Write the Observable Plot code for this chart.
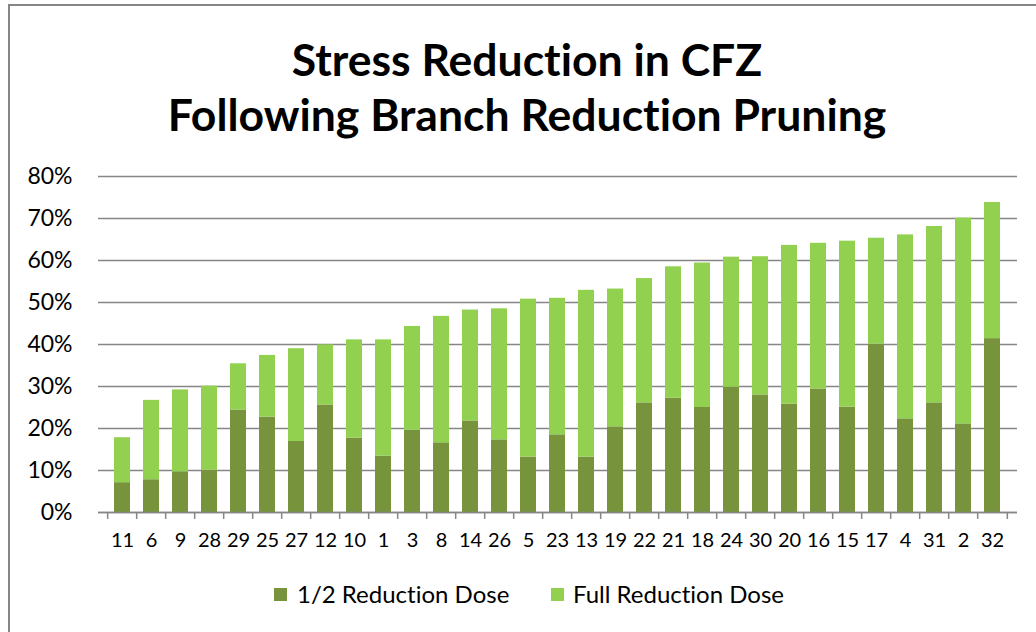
<!DOCTYPE html>
<html>
<head>
<meta charset="utf-8">
<script src="https://cdn.jsdelivr.net/npm/d3@7"></script>
<script src="https://cdn.jsdelivr.net/npm/@observablehq/plot@0.6"></script>
<style>
  html, body { margin: 0; padding: 0; background: #fff; }
  #wrap { position: relative; width: 1036px; height: 632px; overflow: hidden; background: #fff; font-family: Lato, "Open Sans", sans-serif; font-variant-ligatures: none; }
  #frame { position: absolute; left: 8px; top: 4px; width: 1100px; height: 700px; border-left: 2px solid #868686; border-top: 2px solid #868686; }
  #title { position: absolute; left: 17px; width: 1020px; top: 31px; text-align: center; font-weight: 700; font-size: 44.5px; line-height: 55px; color: #000; }
  #chart { position: absolute; left: 0; top: 150px; }
  #chart svg text { font-variant-ligatures: none; }
  .lg { position: absolute; top: 579px; font-size: 24px; line-height: 30px; color: #000; white-space: nowrap; }
  .sw { position: absolute; width: 13px; height: 13px; top: 588px; }
</style>
</head>
<body>
<div id="wrap">
  <div id="frame"></div>
  <div id="title">Stress Reduction in CFZ<br>Following Branch Reduction Pruning</div>
  <div id="chart"></div>
  <div id="legend"></div>
</div>
<script>
const categories = ["11","6","9","28","29","25","27","12","10","1","3","8","14","26","5","23","13","19","22","21","18","24","30","20","16","15","17","4","31","2","32"];
const halfDose = [7.1,7.8,9.7,10.1,24.4,22.7,16.9,25.6,17.7,13.4,19.6,16.6,21.8,17.3,13.2,18.5,13.2,20.4,26.1,27.2,25.0,29.8,28.0,25.8,29.4,25.1,40.1,22.3,26.1,21.1,41.4];
const fullDose = [10.7,18.9,19.5,20.0,11.0,14.7,22.1,14.3,23.4,27.7,24.7,30.1,26.4,31.2,37.6,32.5,39.7,32.8,29.6,31.3,34.4,31.0,32.9,37.8,34.7,39.5,25.2,43.8,42.0,49.0,32.4];
const seriesNames = ["1/2 Reduction Dose", "Full Reduction Dose"];
const seriesColors = ["#77933c", "#92d050"];
const yTicks = [0,10,20,30,40,50,60,70,80];

const rows = [];
categories.forEach((c, i) => {
  rows.push({cat: c, series: seriesNames[0], value: halfDose[i]});
  rows.push({cat: c, series: seriesNames[1], value: fullDose[i]});
});

const W = 1036, ML = 98, MR = 19;
const step = (W - ML - MR) / categories.length;
const gray = "#868686";

const chart = Plot.plot({
  width: W, height: 410,
  marginLeft: ML, marginRight: MR, marginTop: 26, marginBottom: 48,
  style: {fontFamily: "Lato, 'Open Sans', sans-serif", background: "transparent", color: "#000", overflow: "visible"},
  x: {domain: categories, paddingInner: 0.437, paddingOuter: 0.2185, label: null},
  y: {domain: [0, 80], label: null},
  color: {domain: seriesNames, range: seriesColors},
  marks: [
    Plot.gridY(yTicks, {stroke: gray, strokeOpacity: 1, strokeWidth: 1.5}),
    Plot.barY(rows, {x: "cat", y: "value", z: "series", fill: "series"}),
    Plot.ruleY([0], {stroke: gray, strokeWidth: 1.5}),
    Plot.ruleX(categories, {x: d => d, y1: 0, y2: -1.66, dx: -step / 2, stroke: gray, strokeWidth: 1.5}),
    Plot.ruleX([categories[categories.length - 1]], {x: d => d, y1: 0, y2: -1.66, dx: step / 2, stroke: gray, strokeWidth: 1.5}),
    Plot.axisX({tickSize: 0, tickPadding: 20, fontSize: 20, fill: "#000", label: null}),
    Plot.axisY({ticks: yTicks, tickFormat: d => d + "%", tickSize: 0, tickPadding: 26, fontSize: 23, fill: "#000", label: null})
  ]
});
document.getElementById("chart").appendChild(chart);

const legend = document.getElementById("legend");
const lx = [[274, 297], [551, 573]];
seriesNames.forEach((name, i) => {
  const sw = document.createElement("div");
  sw.className = "sw";
  sw.style.left = lx[i][0] + "px";
  sw.style.background = seriesColors[i];
  legend.appendChild(sw);
  const t = document.createElement("div");
  t.className = "lg";
  t.style.left = lx[i][1] + "px";
  t.textContent = name;
  legend.appendChild(t);
});
</script>
</body>
</html>
